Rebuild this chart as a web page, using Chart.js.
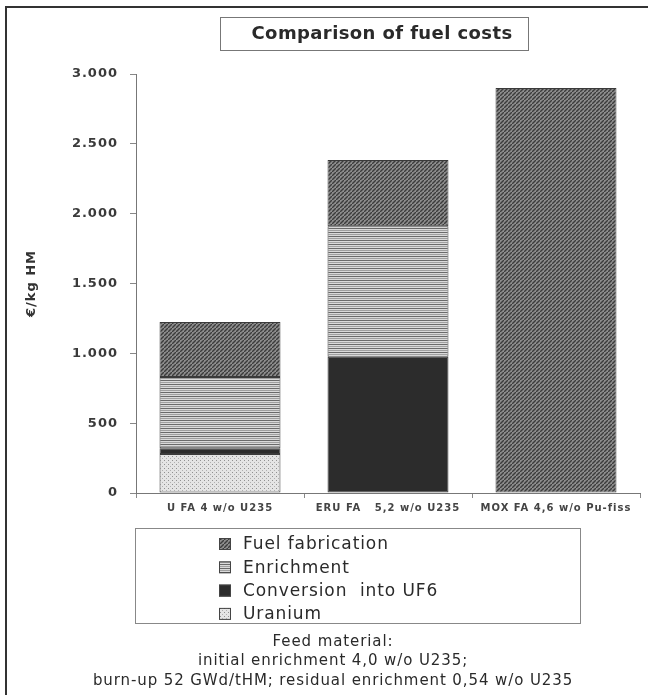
<!DOCTYPE html>
<html>
<head>
<meta charset="utf-8">
<script src="https://cdn.jsdelivr.net/npm/chart.js@4/dist/chart.umd.min.js"></script>
<style>
  html, body { margin: 0; padding: 0; background: #fff; }
  #wrap { width: 648px; height: 695px; }
</style>
</head>
<body>
<div id="wrap"><canvas id="myChart" width="648" height="695"></canvas></div>
<script>
// data (€/kg HM)
const categories = ['U FA 4 w/o U235', 'ERU FA   5,2 w/o U235', 'MOX FA 4,6 w/o Pu-fiss'];
const uranium = [280, null, null];
const conversion = [40, 975, null];
const enrichment = [510, 935, null];
const fabrication = [395, 475, 2900];
const seriesNames = ['Uranium', 'Conversion  into UF6', 'Enrichment', 'Fuel fabrication'];
const yTicks = [0, 500, 1000, 1500, 2000, 2500, 3000];
const chartTitle = 'Comparison of fuel costs';
const yTitle = '€/kg HM';
const footerLines = [
  'Feed material:',
  'initial enrichment 4,0 w/o U235;',
  'burn-up 52 GWd/tHM; residual enrichment 0,54 w/o U235'
];

const makePattern = (w, h, bg, draw) => {
  const c = document.createElement('canvas');
  c.width = w; c.height = h;
  const g = c.getContext('2d');
  g.fillStyle = bg;
  g.fillRect(0, 0, w, h);
  draw(g);
  return g.createPattern(c, 'repeat');
};

const fabPattern = makePattern(4, 4, '#8c8c8c', g => {
  g.strokeStyle = '#3c3c3c';
  g.lineWidth = 1.4;
  g.beginPath();
  g.moveTo(-1, 5); g.lineTo(5, -1);
  g.stroke();
});
const enrPattern = makePattern(4, 4, '#dadada', g => {
  g.fillStyle = '#6a6a6a';
  g.fillRect(0, 0, 4, 1);
  g.fillStyle = '#a0a0a0';
  g.fillRect(0, 2, 4, 1);
});
const convColor = '#2c2c2c';
const uraPattern = makePattern(4, 4, '#e4e4e4', g => {
  g.fillStyle = '#909090';
  g.fillRect(0, 0, 1, 1);
  g.fillStyle = '#b0b0b0';
  g.fillRect(2, 2, 1, 1);
});

const fills = [uraPattern, convColor, enrPattern, fabPattern];
const values = [uranium, conversion, enrichment, fabrication];

const fmt = v => v >= 1000 ? Math.floor(v / 1000) + '.' + String(v % 1000).padStart(3, '0') : String(v);

const spaced = (ctx, text, x, y, spacing) => {
  ctx.letterSpacing = spacing + 'px';
  ctx.fillText(text, x, y);
  ctx.letterSpacing = '0px';
};

const decorations = {
  id: 'decorations',
  beforeDraw(chart) {
    chart.ctx.letterSpacing = '1px';
  },
  afterDraw(chart) {
    const ctx = chart.ctx;
    ctx.save();
    ctx.letterSpacing = '0px';

    // outer frame (top and left only)
    ctx.strokeStyle = '#333';
    ctx.lineWidth = 2;
    ctx.beginPath();
    ctx.moveTo(6, 695); ctx.lineTo(6, 7); ctx.lineTo(648, 7);
    ctx.stroke();

    // title box
    ctx.lineWidth = 1;
    ctx.strokeStyle = '#777';
    ctx.strokeRect(220.5, 17.5, 308, 33);
    ctx.fillStyle = '#2a2a2a';
    ctx.font = 'bold 18px "DejaVu Sans"';
    ctx.textAlign = 'center';
    ctx.textBaseline = 'middle';
    spaced(ctx, chartTitle, 382, 34, 0.4);

    // legend box
    ctx.strokeStyle = '#888';
    ctx.strokeRect(135.5, 528.5, 445, 95);
    const names = seriesNames.slice().reverse();
    const legFills = fills.slice().reverse();
    ctx.textAlign = 'left';
    ctx.font = '17px "DejaVu Sans"';
    names.forEach((n, i) => {
      const cy = 544 + i * 23.3;
      ctx.fillStyle = legFills[i];
      ctx.fillRect(219, cy - 6, 12, 12);
      ctx.strokeStyle = '#444';
      ctx.strokeRect(219.5, cy - 5.5, 11, 11);
      ctx.fillStyle = '#2a2a2a';
      spaced(ctx, n, 243, cy + 1, 0.9);
    });

    // footer
    ctx.textAlign = 'center';
    ctx.font = '15px "DejaVu Sans"';
    ctx.fillStyle = '#2a2a2a';
    footerLines.forEach((t, i) => spaced(ctx, t, 333, 642 + i * 19.5, 0.9));
    ctx.restore();
  }
};

const datasets = seriesNames.map((name, i) => ({
  label: name,
  data: values[i],
  backgroundColor: fills[i],
  borderColor: '#3a3a3a',
  borderWidth: 1,
  borderSkipped: false
}));

new Chart(document.getElementById('myChart'), {
  type: 'bar',
  data: { labels: categories, datasets: datasets },
  options: {
    responsive: false,
    animation: false,
    categoryPercentage: 1,
    barPercentage: 0.72,
    layout: { padding: { left: 0, right: 8, top: 74, bottom: 170 } },
    plugins: {
      legend: { display: false },
      title: { display: false },
      tooltip: { enabled: false }
    },
    scales: {
      x: {
        stacked: true,
        afterFit: s => { s.height = 32; },
        grid: { drawOnChartArea: false, drawTicks: true, tickLength: 5, color: '#888' },
        border: { color: '#777', width: 1 },
        ticks: {
          color: '#444',
          font: { family: 'DejaVu Sans', weight: 'bold', size: 10 },
          padding: 4,
          maxRotation: 0,
          autoSkip: false
        }
      },
      y: {
        stacked: true,
        min: 0,
        max: 3000,
        afterFit: s => { s.width = 136; },
        afterBuildTicks: s => { s.ticks = yTicks.map(v => ({ value: v })); },
        grid: { drawOnChartArea: false, drawTicks: true, tickLength: 6, color: '#888' },
        border: { color: '#777', width: 1 },
        ticks: {
          color: '#3a3a3a',
          font: { family: 'DejaVu Sans', weight: 'bold', size: 13 },
          padding: 12,
          callback: v => fmt(v)
        },
        title: {
          display: true,
          text: yTitle,
          color: '#333',
          font: { family: 'DejaVu Sans', weight: 'bold', size: 13 },
          padding: { top: 24, bottom: 0 }
        }
      }
    }
  },
  plugins: [decorations]
});
</script>
</body>
</html>
